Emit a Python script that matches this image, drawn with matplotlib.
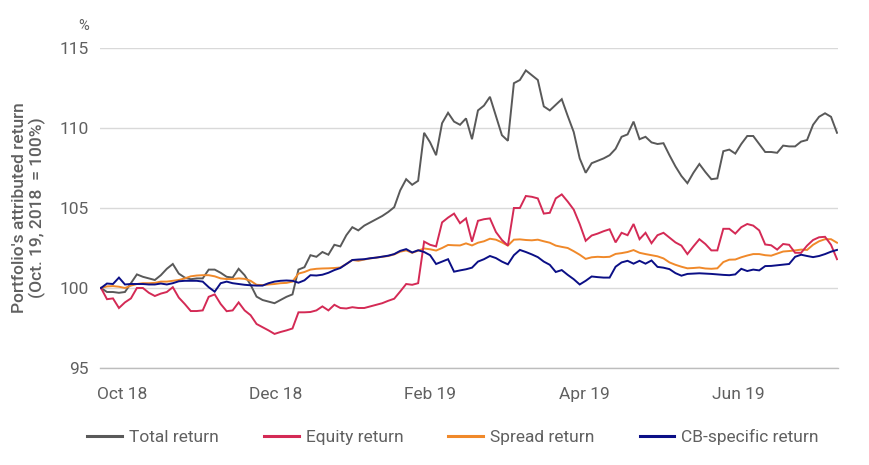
import matplotlib
matplotlib.use("Agg")
import matplotlib.pyplot as plt

# ---------------- data ----------------
total_return = [
    100.0, 99.75, 99.75, 99.7, 99.75, 100.3, 100.85, 100.7, 100.6, 100.5,
    100.8, 101.2, 101.5, 100.9, 100.65, 100.55, 100.6, 100.6, 101.15, 101.15,
    100.95, 100.7, 100.65, 101.2, 100.8, 100.2, 99.46, 99.25, 99.15, 99.05,
    99.25, 99.45, 99.6, 101.15, 101.3, 102.05, 101.95, 102.25, 102.08, 102.7,
    102.6, 103.3, 103.8, 103.6, 103.9, 104.1, 104.3, 104.5, 104.75, 105.05,
    106.1, 106.8, 106.45, 106.7, 109.7, 109.1, 108.3, 110.3, 110.95, 110.4,
    110.2, 110.6, 109.3, 111.1, 111.4, 111.95, 110.75, 109.55, 109.2, 112.8,
    113.0, 113.6, 113.3, 113.0, 111.35, 111.1, 111.45, 111.8, 110.75, 109.75,
    108.1, 107.2, 107.8, 107.95, 108.1, 108.3, 108.7, 109.45, 109.6, 110.4,
    109.3, 109.45, 109.1, 109.0, 109.05, 108.3, 107.6, 107.0, 106.55, 107.2,
    107.75, 107.25, 106.8, 106.85, 108.55, 108.65, 108.4, 109.0, 109.5, 109.5,
    109.0, 108.5, 108.5, 108.45, 108.9, 108.85, 108.85, 109.15, 109.25, 110.2,
    110.7, 110.92, 110.7, 109.7,
]
equity_return = [
    100.0, 99.3, 99.35, 98.75, 99.1, 99.35, 100.0, 100.0, 99.7, 99.5,
    99.65, 99.75, 100.05, 99.4, 99.0, 98.56, 98.56, 98.6, 99.45, 99.6,
    99.0, 98.55, 98.6, 99.1, 98.6, 98.3, 97.75, 97.55, 97.35, 97.13,
    97.25, 97.35, 97.47, 98.48, 98.48, 98.5, 98.6, 98.85, 98.6, 98.95,
    98.75, 98.72, 98.8, 98.75, 98.75, 98.85, 98.95, 99.05, 99.2, 99.33,
    99.78, 100.25, 100.2, 100.3, 102.9, 102.7, 102.6, 104.1, 104.4, 104.65,
    104.05, 104.35, 102.9, 104.2, 104.3, 104.35, 103.5, 103.0, 102.65, 105.0,
    105.0, 105.75, 105.7, 105.6, 104.65, 104.7, 105.6, 105.85, 105.4, 104.9,
    104.0, 102.95, 103.28, 103.4, 103.55, 103.67, 102.85, 103.45, 103.3, 104.0,
    103.05, 103.45, 102.8, 103.3, 103.45, 103.15, 102.85, 102.65, 102.12, 102.6,
    103.05, 102.75, 102.35, 102.35, 103.7, 103.7, 103.4, 103.8, 104.0, 103.9,
    103.6, 102.72, 102.67, 102.4, 102.75, 102.7, 102.2, 102.2, 102.65, 103.0,
    103.17, 103.2, 102.7, 101.8,
]
spread_return = [
    100.0, 100.1, 100.12, 100.08, 100.0, 100.15, 100.25, 100.3, 100.3, 100.32,
    100.4, 100.4, 100.45, 100.5, 100.6, 100.73, 100.78, 100.8, 100.8, 100.73,
    100.6, 100.56, 100.56, 100.6, 100.57, 100.45, 100.2, 100.18, 100.22, 100.25,
    100.3, 100.32, 100.4, 100.9, 101.0, 101.15, 101.2, 101.22, 101.23, 101.25,
    101.28, 101.5, 101.75, 101.7, 101.78, 101.85, 101.9, 101.95, 102.0, 102.1,
    102.27, 102.35, 102.2, 102.33, 102.47, 102.42, 102.34, 102.5, 102.69, 102.67,
    102.66, 102.79, 102.66, 102.83, 102.92, 103.08, 103.02, 102.85, 102.65, 103.02,
    103.04, 103.0, 102.98, 103.02, 102.92, 102.83, 102.65, 102.57, 102.5, 102.3,
    102.08, 101.82, 101.92, 101.95, 101.93, 101.95, 102.13, 102.18, 102.25, 102.37,
    102.2, 102.12, 102.05, 101.98, 101.85, 101.6, 101.45, 101.33, 101.23, 101.25,
    101.28, 101.22, 101.2, 101.23, 101.62, 101.77, 101.78, 101.92, 102.03, 102.12,
    102.12, 102.05, 102.02, 102.15, 102.28, 102.31, 102.35, 102.4, 102.38, 102.7,
    102.92, 103.05, 103.05, 102.83,
]
cb_specific_return = [
    100.0, 100.28, 100.25, 100.65, 100.22, 100.25, 100.25, 100.25, 100.22, 100.22,
    100.28, 100.22, 100.3, 100.42, 100.45, 100.45, 100.45, 100.4, 100.05, 99.77,
    100.3, 100.4, 100.3, 100.25, 100.2, 100.17, 100.15, 100.15, 100.3, 100.4,
    100.45, 100.47, 100.45, 100.33, 100.48, 100.8, 100.78, 100.83, 100.95, 101.12,
    101.25, 101.5, 101.75, 101.78, 101.8, 101.86, 101.9, 101.96, 102.02, 102.12,
    102.32, 102.43, 102.22, 102.36, 102.25, 102.05, 101.5, 101.65, 101.8, 101.02,
    101.1, 101.17, 101.27, 101.65, 101.8, 102.0, 101.87, 101.65, 101.48, 102.05,
    102.38, 102.25, 102.1, 101.93, 101.65, 101.45, 101.0, 101.12, 100.82, 100.55,
    100.22, 100.45, 100.72, 100.68, 100.65, 100.65, 101.33, 101.6, 101.7, 101.52,
    101.7, 101.52, 101.72, 101.32, 101.27, 101.18, 100.93, 100.77, 100.88, 100.9,
    100.92, 100.9, 100.88, 100.85, 100.82, 100.8, 100.85, 101.2, 101.06, 101.15,
    101.1, 101.37, 101.38, 101.42, 101.46, 101.5, 101.95, 102.08, 102.0, 101.93,
    102.0, 102.12, 102.27, 102.38,
]
series_names = ["Total return", "Equity return", "Spread return", "CB-specific return"]
x_tick_labels = ["Oct 18", "Dec 18", "Feb 19", "Apr 19", "Jun 19"]
y_ticks = [95, 100, 105, 110, 115]

# ---------------- style ----------------
plt.rcParams["font.family"] = ["Roboto", "DejaVu Sans"]
colors = ["#595959", "#d42a55", "#f0892a", "#0b0f86"]
zorders = [3, 5, 4, 6]
text_col = "#606060"

fig = plt.figure(figsize=(8.7, 4.65), dpi=100)
ax = fig.add_axes([100 / 870, 1 - 368 / 465, 738 / 870, 320 / 465])

n = len(total_return)
x = list(range(n))
for vals, name, c, z in zip(
    [total_return, equity_return, spread_return, cb_specific_return],
    series_names, colors, zorders,
):
    ax.plot(x, vals, color=c, lw=1.4, label=name, zorder=z,
            solid_joinstyle="miter")

pad = (n - 1) / 736.0
ax.set_xlim(-pad, (n - 1) + pad)
ax.set_ylim(95, 115)

step = (n - 1) / 736.0  # index units per pixel
tick_px = [21, 175, 329.5, 483.5, 637.5]  # label centres, px from first point
ax.set_xticks([p * step for p in tick_px])
ax.set_xticklabels(x_tick_labels)
ax.set_yticks(y_ticks)
ax.tick_params(axis="both", length=0, labelsize=12.5, colors=text_col)
ax.tick_params(axis="x", pad=14)
ax.tick_params(axis="y", pad=8)

ax.grid(axis="y", color="#d9d9d9", lw=1)
ax.set_axisbelow(True)
for s in ["top", "right", "left"]:
    ax.spines[s].set_visible(False)
ax.spines["bottom"].set_color("#bdbdbd")
ax.spines["bottom"].set_linewidth(1)

fig.text(29 / 870, 1 - 208 / 465,
         "Portfolio's attributed return\n(Oct. 19, 2018  = 100%)",
         rotation=90, ha="center", va="center", fontsize=12.5,
         fontweight="medium", color=text_col, linespacing=1.15)
fig.text(84 / 870, 1 - 26 / 465, "%", ha="center", va="center",
         fontsize=10.5, color=text_col)

leg = fig.legend(loc="center", bbox_to_anchor=(453 / 870, 1 - 437 / 465),
                 ncol=4, frameon=False,
                 prop={"size": 12.5},
                 handlelength=2.0, handletextpad=0.4, columnspacing=2.6)
for t in leg.get_texts():
    t.set_color(text_col)
for h in leg.legend_handles:
    h.set_linewidth(2.2)

fig.savefig("out.png", dpi=100)
